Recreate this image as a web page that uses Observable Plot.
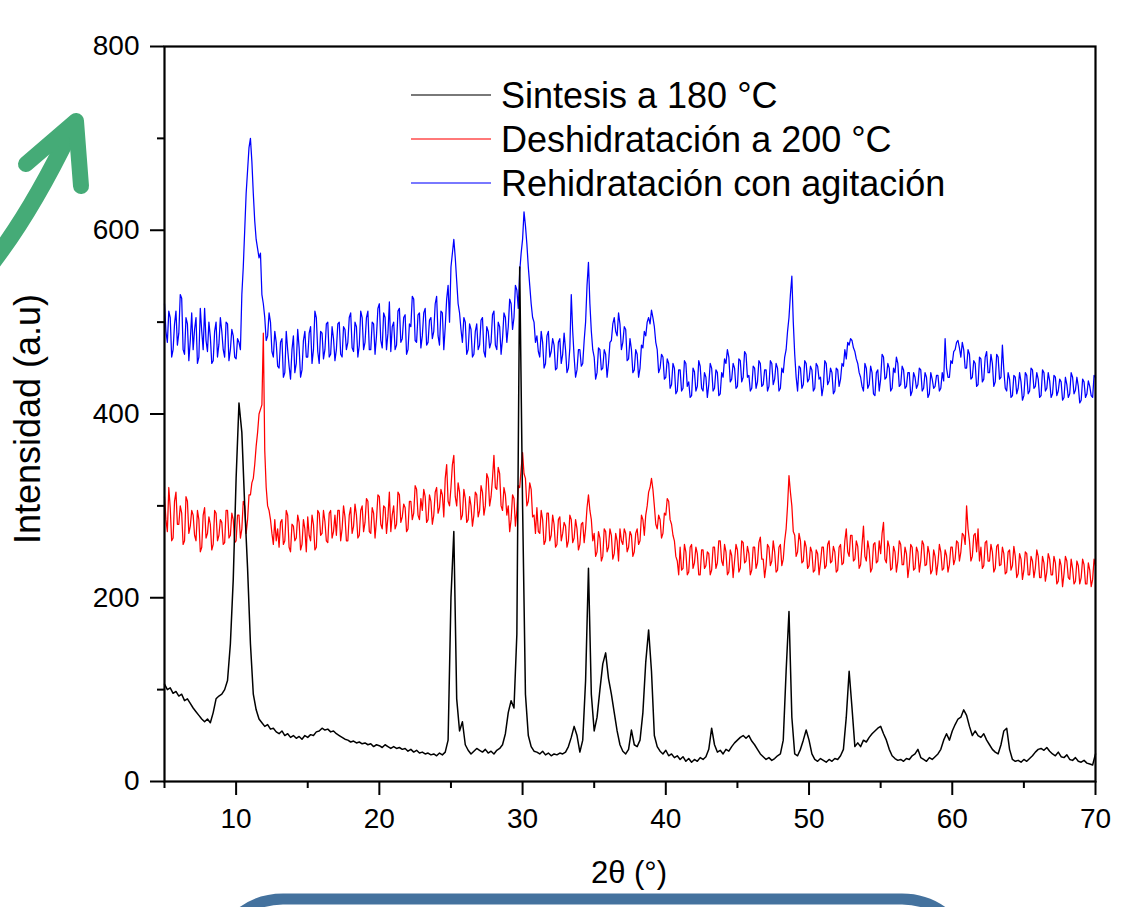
<!DOCTYPE html>
<html>
<head>
<meta charset="utf-8">
<script src="https://cdn.jsdelivr.net/npm/d3@7"></script>
<script src="https://cdn.jsdelivr.net/npm/@observablehq/plot@0.6"></script>
<style>
  html, body { margin: 0; padding: 0; background: #ffffff; }
  #chart { position: relative; width: 1125px; height: 907px; overflow: hidden; }
</style>
</head>
<body>
<div id="chart"></div>
<script>
// ---- Data ----
// sampling grids start at 2θ = 5°; black every 0.2°, red and blue every 0.1°
const thetaStart = 5;
const blackStep = 0.2, noisyStep = 0.1;

const seriesNames = ["Sintesis a 180 °C", "Deshidratación a 200 °C", "Rehidratación con agitación"];
const seriesColors = ["#000000", "#ff0000", "#0000ff"];

// Sintesis a 180 °C (0.2° steps, 5 → 70)
const sintesis = [
  106,100,102,96,98,93,95,88,90,85,
  80,76,72,68,65,68,64,75,90,93,
  95,100,110,150,220,330,412,380,300,232,
  150,95,78,68,64,60,62,57,58,54,
  52,55,50,52,48,50,47,49,46,50,
  48,51,50,54,55,58,56,57,54,55,
  52,50,48,46,45,43,44,42,43,41,
  42,40,41,38,40,39,37,40,38,36,
  38,36,37,35,36,33,35,32,34,31,
  32,30,31,29,30,28,31,29,32,45,
  200,272,90,55,65,40,34,30,33,36,
  34,32,35,31,33,30,34,36,40,52,
  75,88,80,160,560,300,95,50,38,33,
  32,30,33,29,31,28,30,29,31,30,
  32,38,48,60,50,32,45,110,232,95,
  55,70,100,128,140,112,95,75,55,40,
  33,30,35,56,40,38,45,75,130,165,
  120,50,38,33,30,34,28,30,26,28,
  24,27,22,25,21,24,22,26,24,27,
  35,58,40,32,34,30,35,33,38,42,
  45,48,50,47,50,44,40,35,30,27,
  24,26,23,25,28,30,45,120,185,70,
  30,28,35,45,56,45,30,24,22,25,
  23,21,24,22,25,24,28,35,70,120,
  80,38,42,38,45,43,48,52,55,58,
  60,52,45,35,28,25,23,24,22,25,
  24,28,30,35,26,24,22,26,24,27,
  30,35,45,52,45,55,62,68,70,78,
  72,60,50,55,50,48,52,45,40,35,
  32,30,40,55,58,35,24,22,23,21,
  24,22,25,28,32,35,36,34,37,33,
  30,28,32,27,26,29,24,23,26,22,
  21,23,20,19,18,30
];

// Deshidratación a 200 °C (0.1° steps, one row per degree)
const deshidratacion = [
  310,285,272,320,298,262,265,305,315,280,
  280,300,292,258,262,310,305,270,278,295,
  290,268,262,295,285,250,255,290,298,265,
  270,288,280,252,258,295,292,262,268,285,
  282,258,260,295,295,265,268,292,285,260,
  262,290,290,265,275,305,300,270,285,312,
  312,325,330,345,365,380,400,405,410,488,
  360,320,300,295,285,270,258,285,262,275,
  255,282,285,258,262,295,290,255,250,280,
  278,262,265,290,282,252,258,285,275,250,
  288,268,262,290,280,252,255,295,292,268,
  270,295,283,262,260,292,295,265,272,290,
  268,295,295,262,275,300,288,262,262,290,
  298,270,278,302,290,265,268,295,300,272,
  282,308,305,272,270,298,292,265,285,312,
  310,280,275,300,298,270,288,315,272,290,
  300,275,280,315,312,282,288,302,298,272,
  275,305,305,285,292,322,318,290,285,308,
  295,318,310,282,285,312,305,280,290,315,
  320,292,298,318,312,288,330,345,305,300,
  320,345,355,310,300,325,315,285,290,318,
  308,282,285,310,300,278,290,315,312,288,
  295,322,315,290,300,335,330,300,310,330,
  355,320,318,342,335,300,295,320,312,290,
  300,272,285,312,308,278,295,322,320,340,
  358,335,330,300,305,325,318,288,290,270,
  298,272,270,295,285,258,262,292,292,262,
  268,290,280,255,258,285,288,262,270,282,
  278,255,262,290,285,260,265,285,275,252,
  258,280,282,260,275,298,312,295,285,262,
  270,245,250,272,265,240,245,275,272,250,
  255,275,268,242,248,270,262,240,275,262,
  258,275,270,250,255,272,268,245,250,270,
  275,258,262,290,285,268,290,300,315,320,
  330,318,300,280,275,290,285,265,270,292,
  290,308,305,285,280,268,262,245,240,225,
  255,230,232,258,250,225,228,255,258,232,
  238,255,248,225,225,252,252,232,235,250,
  248,225,230,255,255,232,238,262,262,240,
  235,258,250,225,228,252,246,222,240,258,
  252,228,232,262,260,238,240,256,248,225,
  230,255,255,232,238,260,266,242,242,222,
  235,258,255,235,240,262,250,228,230,255,
  258,235,242,262,275,300,333,315,300,272,
  268,245,250,270,262,238,240,262,255,232,
  235,255,250,228,230,252,248,225,238,255,
  255,232,235,258,262,238,240,256,250,228,
  230,255,258,236,238,262,275,250,245,268,
  268,240,242,262,256,232,236,258,278,245,
  240,262,252,228,232,258,260,238,240,262,
  248,270,282,242,238,262,255,230,232,256,
  250,228,240,262,258,236,236,255,248,222,
  235,258,255,230,232,255,250,228,240,262,
  258,235,236,256,248,226,230,252,245,225,
  238,258,250,230,232,252,246,228,236,255,
  255,236,242,262,260,240,250,270,268,258,
  300,275,262,240,245,268,270,250,275,240,
  255,232,235,260,262,240,240,258,250,228,
  232,256,258,235,236,255,248,226,228,250,
  252,230,235,256,245,222,226,248,242,220,
  230,250,248,225,225,245,240,222,232,252,
  245,222,222,245,238,218,228,248,242,225,
  225,245,238,215,218,242,235,212,226,245,
  240,222,220,242,232,215,218,240,235,215,
  222,242,236,215,215,238,230,212,220,242,
  235
];

// Rehidratación con agitación (0.1° steps, one row per degree)
const rehidratacion = [
  520,490,478,512,505,462,470,498,512,475,
  488,530,526,470,465,505,498,458,480,510,
  470,492,505,455,462,515,490,470,515,480,
  468,500,484,455,458,490,500,462,476,505,
  490,470,462,500,498,458,470,492,485,462,
  460,482,478,470,530,560,600,640,665,690,
  700,675,640,610,590,580,570,575,530,520,
  505,480,485,510,500,468,462,490,478,452,
  450,478,482,440,445,490,470,452,438,470,
  485,445,455,492,472,440,448,480,490,462,
  462,488,495,455,470,512,505,468,455,490,
  488,460,470,498,500,462,465,495,482,458,
  470,498,500,465,462,495,492,470,478,505,
  510,472,468,500,495,462,475,512,505,470,
  478,505,512,470,470,500,498,465,485,515,
  520,480,472,510,505,470,488,522,468,495,
  500,470,475,512,515,478,482,505,508,465,
  470,498,495,528,525,480,478,508,510,472,
  485,510,515,475,478,502,505,482,490,520,
  528,485,475,512,510,470,495,525,540,500,
  560,575,590,570,545,520,510,492,478,505,
  500,465,470,498,492,462,465,490,498,470,
  475,502,505,468,462,495,490,472,478,508,
  512,475,470,500,495,465,482,510,505,478,
  495,525,520,492,505,540,535,515,555,575,
  590,620,605,585,560,540,520,505,500,478,
  485,468,462,490,478,450,455,485,490,462,
  468,482,475,448,450,478,482,455,465,488,
  470,445,450,472,530,490,462,440,448,470,
  470,452,455,480,500,540,565,520,490,470,
  462,438,445,472,470,448,450,470,465,440,
  455,478,480,498,505,490,485,510,498,470,
  478,495,492,458,460,482,470,445,448,470,
  465,440,450,475,472,490,485,500,505,498,
  513,505,495,478,470,445,450,465,462,438,
  440,460,455,428,432,455,450,422,425,448,
  448,425,428,458,455,430,435,418,420,450,
  446,425,430,458,452,428,425,445,440,418,
  432,455,450,425,428,448,445,420,422,445,
  440,460,455,470,462,435,438,455,450,428,
  430,460,458,435,440,468,465,440,442,425,
  428,452,450,428,435,458,455,430,432,448,
  448,425,430,458,455,432,438,455,450,425,
  428,450,445,462,470,490,505,530,550,500,
  465,440,425,452,450,428,432,458,455,435,
  438,452,448,425,428,455,452,438,440,420,
  430,458,455,432,436,450,445,422,425,450,
  448,430,438,455,452,470,460,478,475,482,
  480,472,468,460,455,445,440,430,425,455,
  450,428,432,452,445,422,420,445,448,425,
  438,465,462,438,440,455,450,425,428,450,
  445,462,455,430,432,452,448,428,430,445,
  445,420,425,445,440,428,432,450,448,425,
  428,445,440,418,422,445,438,428,430,442,
  442,425,428,445,436,482,450,440,440,458,
  455,468,470,478,480,472,462,478,470,450,
  450,470,465,438,440,458,455,430,432,462,
  460,435,438,462,468,445,445,465,455,430,
  435,465,462,438,440,475,448,428,425,445,
  438,418,420,442,440,422,428,445,435,415,
  420,445,442,422,425,450,448,428,430,445,
  438,418,420,448,445,425,428,445,436,418,
  422,442,440,420,425,438,435,415,418,440,
  432,418,422,445,440,422,426,440,430,412,
  415,438,435,418,422,436,430,420,418,442,
  440
];

const yMajorTicks = [0, 200, 400, 600, 800];
const yMinorTicks = [100, 300, 500, 700];
const xMajorTicks = [10, 20, 30, 40, 50, 60, 70];
const xMinorTicks = [5, 15, 25, 35, 45, 55, 65];

const xTitle = "2\u03B8 (\u00B0)";
const yTitle = "Intensidad (a.u)";

// ---- Build tables ----
const toRows = (vals, step) => vals.map((v, i) => ({x: Math.round((thetaStart + i * step) * 10) / 10, y: v}));
const blackRows = toRows(sintesis, blackStep);
const redRows = toRows(deshidratacion, noisyStep);
const blueRows = toRows(rehidratacion, noisyStep);

const W = 1125, H = 907;
const font = "'Liberation Sans', Arial, Helvetica, sans-serif";

const chart = Plot.plot({
  width: W,
  height: H,
  marginLeft: 164,
  marginRight: 30,
  marginTop: 46,
  marginBottom: 126,
  style: {fontFamily: font, background: "transparent", color: "#000", overflow: "visible"},
  x: {domain: [5, 70]},
  y: {domain: [0, 800]},
  marks: [
    Plot.line(blueRows, {x: "x", y: "y", stroke: seriesColors[2], strokeWidth: 1.25}),
    Plot.line(redRows, {x: "x", y: "y", stroke: seriesColors[1], strokeWidth: 1.25}),
    Plot.line(blackRows, {x: "x", y: "y", stroke: seriesColors[0], strokeWidth: 1.5}),
    Plot.frame({stroke: "#000", strokeWidth: 2.2}),
    Plot.axisY(yMajorTicks, {tickSize: 14, tickPadding: 11, fontSize: 28, strokeWidth: 2, label: null}),
    Plot.axisY(yMinorTicks, {tickSize: 7, text: null, strokeWidth: 2, label: null}),
    Plot.axisX(xMajorTicks, {tickSize: 14, tickPadding: 13, fontSize: 28, strokeWidth: 2, label: null}),
    Plot.axisX(xMinorTicks, {tickSize: 7, text: null, strokeWidth: 2, label: null})
  ]
});

document.getElementById("chart").appendChild(chart);

const svg = d3.select(chart);

// Axis titles
svg.append("text")
  .attr("x", 629).attr("y", 883)
  .attr("text-anchor", "middle")
  .attr("font-family", font).attr("font-size", 31)
  .attr("fill", "#000")
  .text(xTitle);

svg.append("text")
  .attr("transform", "translate(40,419) rotate(-90)")
  .attr("text-anchor", "middle")
  .attr("font-family", font).attr("font-size", 36)
  .attr("fill", "#000")
  .text(yTitle);

// Legend
const legend = svg.append("g");
seriesNames.forEach((name, i) => {
  const y = 95 + i * 44;
  legend.append("line")
    .attr("x1", 411).attr("x2", 491).attr("y1", y).attr("y2", y)
    .attr("stroke", seriesColors[i]).attr("stroke-width", 1.5).attr("stroke-opacity", 0.7);
  legend.append("text")
    .attr("x", 501).attr("y", y + 13)
    .attr("text-anchor", "start")
    .attr("font-family", font).attr("font-size", 36)
    .attr("fill", "#000")
    .text(name);
});

// Decorative slide elements (green arrow, blue rounded box)
const deco = svg.append("g");
deco.append("path")
  .attr("d", "M -12 268 Q 30 215 70 132")
  .attr("fill", "none").attr("stroke", "#45ab77").attr("stroke-width", 17).attr("stroke-linecap", "round");
deco.append("path")
  .attr("d", "M 26 164 L 76 121 L 81 186")
  .attr("fill", "none").attr("stroke", "#45ab77").attr("stroke-width", 16)
  .attr("stroke-linecap", "round").attr("stroke-linejoin", "round");
deco.append("rect")
  .attr("x", 213).attr("y", 899).attr("width", 759).attr("height", 140).attr("rx", 70)
  .attr("fill", "none").attr("stroke", "#44729e").attr("stroke-width", 11);
</script>
</body>
</html>
